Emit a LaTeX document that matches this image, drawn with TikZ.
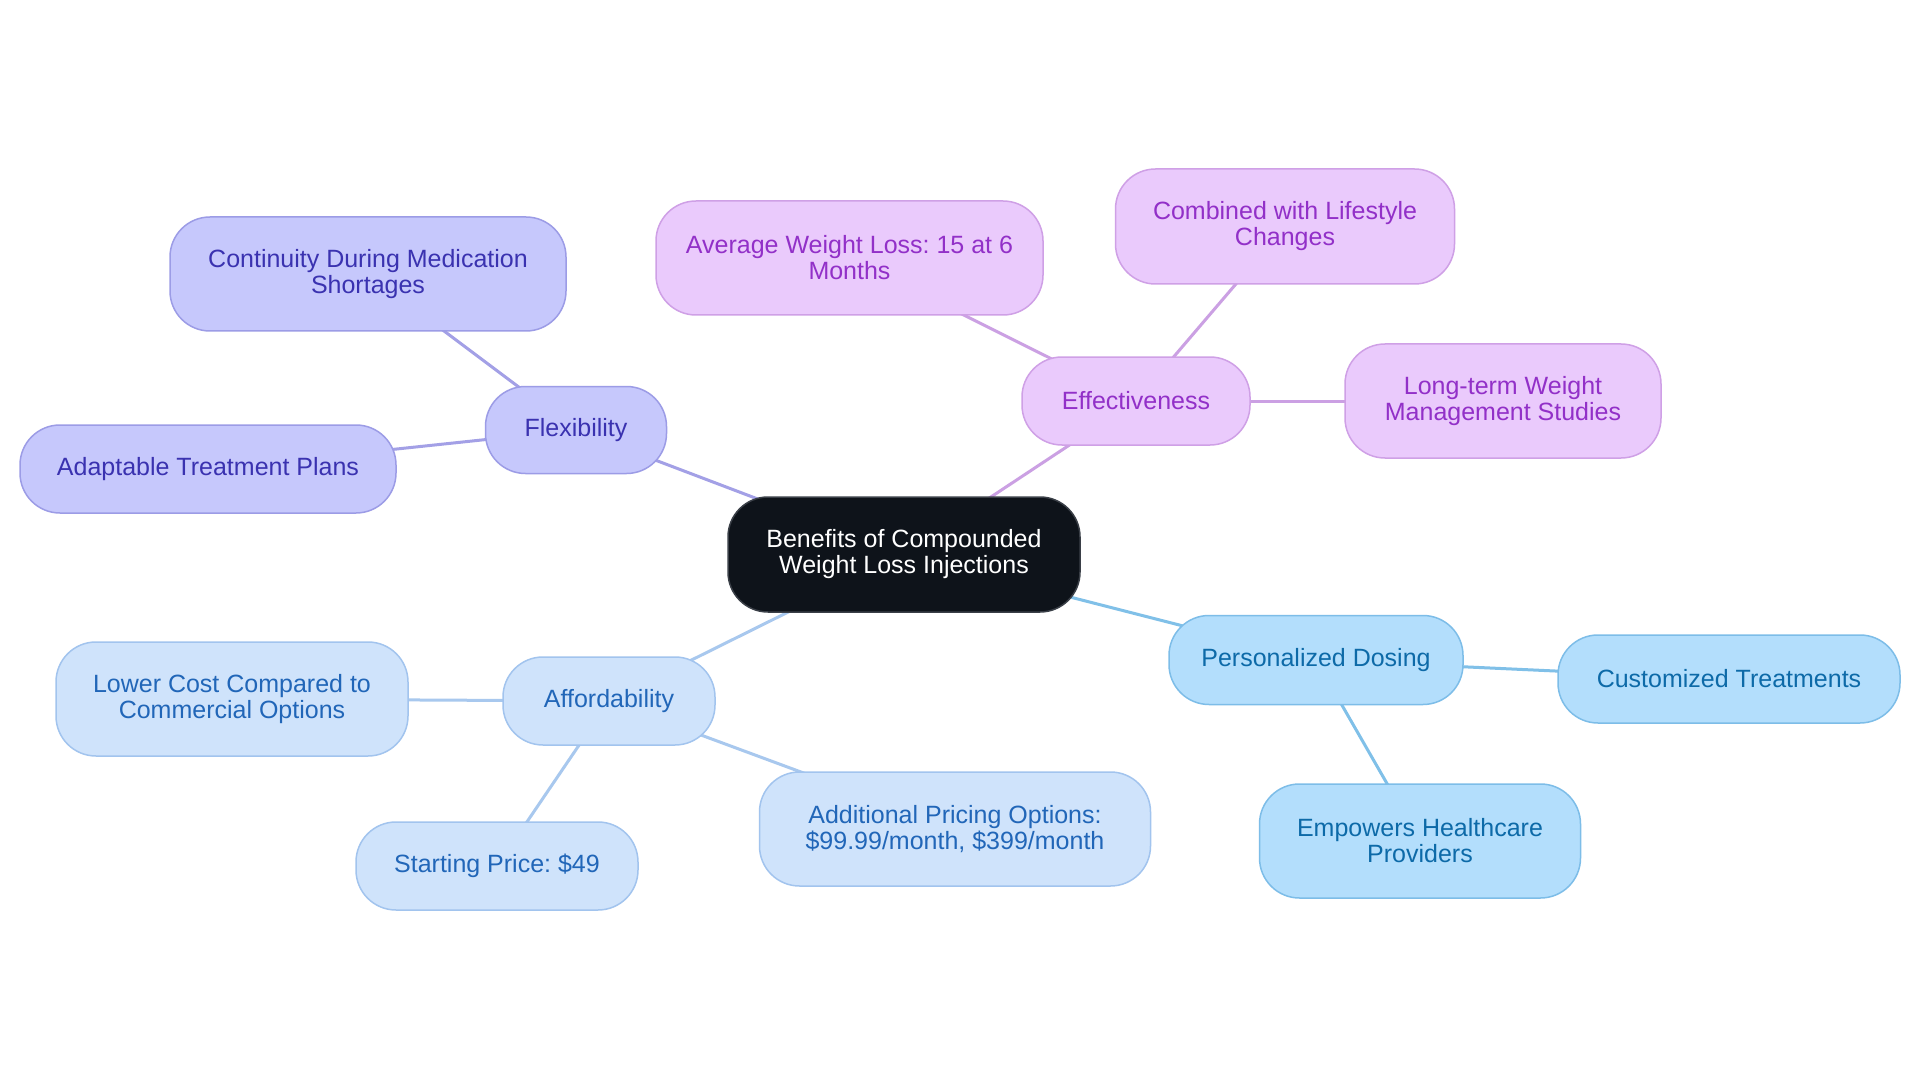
\documentclass[tikz,border=0pt]{standalone}
\usepackage{fontspec}
\setmainfont{Liberation Sans}
\usetikzlibrary{backgrounds}
\frenchspacing
\definecolor{flexfill}{HTML}{C6C8FC}
\definecolor{flexdraw}{HTML}{9C9CE6}
\definecolor{flextext}{HTML}{3A32B0}
\definecolor{flexline}{HTML}{A3A0E6}
\definecolor{efffill}{HTML}{EACAFC}
\definecolor{effdraw}{HTML}{CFA0E6}
\definecolor{efftext}{HTML}{9230C8}
\definecolor{effline}{HTML}{CBA0E3}
\definecolor{persfill}{HTML}{B3DEFC}
\definecolor{persdraw}{HTML}{7DBDE8}
\definecolor{perstext}{HTML}{0D6AA8}
\definecolor{persline}{HTML}{80C0E8}
\definecolor{afffill}{HTML}{CFE3FB}
\definecolor{affdraw}{HTML}{A2C4EE}
\definecolor{afftext}{HTML}{2166B8}
\definecolor{affline}{HTML}{A8C8EE}
\definecolor{rootfill}{HTML}{0E131A}
\definecolor{rootdraw}{HTML}{3A3F47}
\tikzset{
  box/.style={rectangle, rounded corners=40pt, draw, line width=1.5pt, align=center,
    inner sep=0pt, font=\fontsize{25}{26}\selectfont\frenchspacing},
  flexbox/.style={box, fill=flexfill, draw=flexdraw, text=flextext},
  effbox/.style={box, fill=efffill, draw=effdraw, text=efftext},
  persbox/.style={box, fill=persfill, draw=persdraw, text=perstext},
  affbox/.style={box, fill=afffill, draw=affdraw, text=afftext},
  rootbox/.style={box, fill=rootfill, draw=rootdraw, text=white},
  link/.style={line width=3pt}
}
\begin{document}
\begin{tikzpicture}[x=1pt,y=-1pt]
\useasboundingbox (0,0) rectangle (1920,1083);
% root
\node[rootbox, minimum width=352pt, minimum height=115pt] (root) at (904,554.5) {Benefits of Compounded\\Weight Loss Injections};
% flexibility
\node[flexbox, minimum width=181pt, minimum height=87pt] (flex) at (576,430) {Flexibility};
\node[flexbox, minimum width=396pt, minimum height=114pt] (cont) at (368,274) {Continuity During Medication\\Shortages};
\node[flexbox, minimum width=376pt, minimum height=88pt] (adapt) at (208,469) {Adaptable Treatment Plans};
% effectiveness
\node[effbox, minimum width=228pt, minimum height=88pt] (eff) at (1136,401) {Effectiveness};
\node[effbox, minimum width=387pt, minimum height=114pt] (avg) at (849.5,258) {Average Weight Loss: 15 at 6\\Months};
\node[effbox, minimum width=339pt, minimum height=115pt] (comb) at (1285,226.5) {Combined with Lifestyle\\Changes};
\node[effbox, minimum width=316pt, minimum height=114pt] (long) at (1503,401) {Long-term Weight\\Management Studies};
% personalized dosing
\node[persbox, minimum width=294pt, minimum height=89pt] (pers) at (1316,660) {Personalized Dosing};
\node[persbox, minimum width=342pt, minimum height=88pt] (cust) at (1729,679) {Customized Treatments};
\node[persbox, minimum width=321pt, minimum height=114pt] (emp) at (1420,841) {Empowers Healthcare\\Providers};
% affordability
\node[affbox, minimum width=212pt, minimum height=88pt] (aff) at (609,701) {Affordability};
\node[affbox, minimum width=352pt, minimum height=114pt] (lower) at (232,699) {Lower Cost Compared to\\Commercial Options};
\node[affbox, minimum width=282pt, minimum height=88pt] (start) at (497,866) {Starting Price: \$49};
\node[affbox, minimum width=391pt, minimum height=114pt] (add) at (955,829) {Additional Pricing Options:\\\$99.99/month, \$399/month};
\begin{pgfonlayer}{background}
\fill[white] (0,0) rectangle (1920,1083);
\draw[link, flexline] (root.center) -- (flex.center);
\draw[link, flexline] (flex.center) -- (cont.center);
\draw[link, flexline] (flex.center) -- (adapt.center);
\draw[link, effline] (root.center) -- (eff.center);
\draw[link, effline] (eff.center) -- (avg.center);
\draw[link, effline] (eff.center) -- (comb.center);
\draw[link, effline] (eff.center) -- (long.center);
\draw[link, persline] (root.center) -- (pers.center);
\draw[link, persline] (pers.center) -- (cust.center);
\draw[link, persline] (pers.center) -- (emp.center);
\draw[link, affline] (root.center) -- (aff.center);
\draw[link, affline] (aff.center) -- (lower.center);
\draw[link, affline] (aff.center) -- (start.center);
\draw[link, affline] (aff.center) -- (add.center);
\end{pgfonlayer}
\end{tikzpicture}
\end{document}
